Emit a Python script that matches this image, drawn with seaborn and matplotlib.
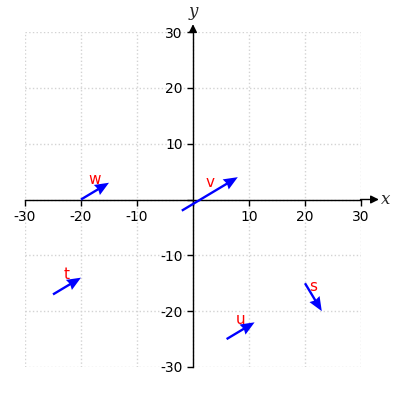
import numpy as np
import matplotlib
matplotlib.use("Agg")
import matplotlib.pyplot as plt
import seaborn as sns

# vecteurs : nom, origine, composantes
names = ["w", "v", "t", "u", "s"]
x0 = [-20, -2, -25, 6, 20]
y0 = [0, -2, -17, -25, -15]
dx = [5, 10, 5, 5, 3]
dy = [3, 6, 3, 3, -5]
ticks = [-30, -20, -10, 0, 10, 20, 30]
tick_labels = ["-30", "-20", "-10", "", "10", "20", "30"]

sns.set_style("white")
plt.rcParams["axes.unicode_minus"] = False

fig = plt.figure(figsize=(4, 4), dpi=100)
ax = fig.add_axes([0.0625, 0.0825, 0.84, 0.8375])

ax.quiver(x0, y0, dx, dy, angles="xy", scale_units="xy", scale=1,
          color="blue", width=0.007, headwidth=5, headlength=6,
          headaxislength=5.5, zorder=3)

for n, a, b, c, d in zip(names, x0, y0, dx, dy):
    ax.text(a + c / 2, b + d / 2 + 2, n, color="red", fontsize=11,
            ha="center", va="center")

ax.set_xlim(-30, 30)
ax.set_ylim(-30, 30)
ax.set_xticks(ticks)
ax.set_yticks(ticks)
ax.set_xticklabels(tick_labels)
ax.set_yticklabels(tick_labels)
ax.grid(True, linestyle=":", color="lightgray", linewidth=1)
ax.tick_params(direction="out", length=4, width=1, colors="black",
               labelsize=10, bottom=True, left=True)

for side in ["top", "right"]:
    ax.spines[side].set_visible(False)
ax.spines["left"].set_position(("data", 0))
ax.spines["bottom"].set_position(("data", 0))
for side in ["left", "bottom"]:
    ax.spines[side].set_color("black")
    ax.spines[side].set_linewidth(1)
    ax.spines[side].set_zorder(2.5)

# fleches des axes
ax.annotate("", xy=(33.2, 0), xytext=(29.9, 0), annotation_clip=False,
            arrowprops=dict(arrowstyle="-|>", color="black", lw=1,
                            mutation_scale=12, shrinkA=0, shrinkB=0))
ax.annotate("", xy=(0, 31.4), xytext=(0, 29.9), annotation_clip=False,
            arrowprops=dict(arrowstyle="-|>", color="black", lw=1,
                            mutation_scale=12, shrinkA=0, shrinkB=0))
ax.text(33.6, 0, "x", fontsize=12, family="serif", style="italic",
        ha="left", va="center")
ax.text(0, 32.2, "y", fontsize=12, family="serif", style="italic",
        ha="center", va="bottom")

fig.savefig("out.png", dpi=100)
